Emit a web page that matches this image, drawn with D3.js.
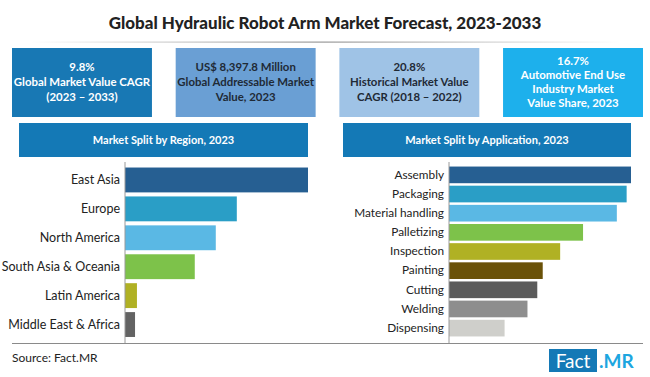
<!doctype html>
<html>
  <head>
    <meta charset="utf-8">
    <title>Global Hydraulic Robot Arm Market Forecast</title>
    <script src="https://cdnjs.cloudflare.com/ajax/libs/d3/7.8.5/d3.min.js"></script>
    <style>
      body { margin: 0; background: #fff; }
      svg { display: block; font-family: Lato, "Open Sans", sans-serif; }
    </style>
  </head>
  <body>
    <div id="chart"></div>
    <script>
    // data (shares, %)
    const regions = ['East Asia', 'Europe', 'North America', 'South Asia & Oceania', 'Latin America', 'Middle East & Africa'];
    const regionValues = [38.3, 23.4, 19.0, 14.6, 2.5, 2.1];
    const regionColors = ['#265f92', '#2a9ec6', '#5ab8e4', '#7dc24a', '#b0b124', '#636363'];

    const applications = ['Assembly', 'Packaging', 'Material handling', 'Palletizing', 'Inspection', 'Painting', 'Cutting', 'Welding', 'Dispensing'];
    const appValues = [16.7, 16.3, 15.4, 12.3, 10.2, 8.6, 8.1, 7.2, 5.1];
    const appColors = ['#265f92', '#2a9ec6', '#5ab8e4', '#7dc24a', '#b0b124', '#6a5209', '#5b5b5b', '#8e8e8e', '#cfcfcb'];

    const kpiLines = [
      ['9.8%', 'Global Market Value CAGR', '(2023 \u2013 2033)'],
      ['US$ 8,397.8 Million', 'Global Addressable Market', 'Value, 2023'],
      ['20.8%', 'Historical Market Value', 'CAGR (2018 \u2013 2022)'],
      ['16.7%', 'Automotive End Use', 'Industry Market', 'Value Share, 2023']
    ];
    const kpiColors = ['#1878b4', '#6a9fd4', '#9fc3e6', '#1db0ec'];
    const kpiText = ['#fff', '#1f2a36', '#1f2a36', '#fff'];

    const W = 650, H = 377;
    const svg = d3.select('#chart').append('svg').attr('width', W).attr('height', H);

    // title, sized so it spans about the same width as the original
    const title = svg.append('text').attr('x', 325).attr('y', 29)
      .attr('text-anchor', 'middle')
      .style('font-family', 'Lato, sans-serif')
      .style('font-weight', 900).style('font-size', '16px').style('fill', '#222')
      .text('Global Hydraulic Robot Arm Market Forecast, 2023-2033');
    const tw = title.node().getComputedTextLength();
    title.style('font-size', (16 * 433 / tw).toFixed(2) + 'px');

    const grad = svg.append('defs').append('linearGradient').attr('id', 'sep');
    grad.append('stop').attr('offset', '0%').attr('stop-color', '#fff');
    grad.append('stop').attr('offset', '50%').attr('stop-color', '#999');
    grad.append('stop').attr('offset', '100%').attr('stop-color', '#fff');
    svg.append('rect').attr('x', 30).attr('y', 41.5).attr('width', 590).attr('height', 1.2).attr('fill', 'url(#sep)');

    // KPI boxes
    const kx = d3.scaleBand().domain(d3.range(4)).range([12, 643]).paddingInner(0.145);
    const kpi = svg.selectAll('.kpi').data(kpiLines).join('g').attr('class', 'kpi')
      .attr('transform', (d, i) => `translate(${kx(i)},48)`);
    kpi.append('rect').attr('width', kx.bandwidth()).attr('height', 69)
      .attr('fill', (d, i) => kpiColors[i]);
    kpi.each(function(d, i) {
      const g = d3.select(this);
      const lh = d.length > 3 ? 14.3 : 15;
      const y0 = 34 - (d.length - 1) * lh / 2 + 4;
      d.forEach((t, j) => {
        g.append('text').attr('x', kx.bandwidth() / 2).attr('y', y0 + j * lh)
          .attr('text-anchor', 'middle')
          .style('font-size', '11.4px').style('font-weight', 700).style('fill', kpiText[i])
          .text(t);
      });
    });

    function panel(x0, x1, axisX, title, cats, vals, cols, bandTop, bandBottom, pad, fs) {
      svg.append('rect').attr('x', x0).attr('y', 123).attr('width', x1 - x0).attr('height', 34).attr('fill', '#1479b6');
      svg.append('text').attr('x', (x0 + x1) / 2).attr('y', 144).attr('text-anchor', 'middle')
        .style('font-size', '11px').style('font-weight', 700).style('fill', '#fff').text(title);

      const y = d3.scaleBand().domain(cats).range([bandTop, bandBottom]).paddingInner(pad).paddingOuter(pad / 2);
      const x = d3.scaleLinear().domain([0, d3.max(vals)]).range([axisX, x1]);

      svg.selectAll(null).data(cats).join('rect')
        .attr('x', axisX).attr('y', d => y(d))
        .attr('width', (d, i) => x(vals[i]) - axisX)
        .attr('height', y.bandwidth())
        .attr('fill', (d, i) => cols[i]);

      const ax = svg.append('g').attr('transform', `translate(${axisX},0)`)
        .call(d3.axisLeft(y).tickSize(0).tickPadding(5));
      ax.select('.domain').attr('stroke', '#9a9a9a').attr('d', `M0,162V343`);
      ax.selectAll('text').style('font-family', 'Lato, sans-serif').style('font-size', fs).style('fill', '#222');
    }

    panel(19, 308, 125, 'Market Split by Region, 2023', regions, regionValues, regionColors, 165.5, 339, 0.14, '12.5px');
    panel(343, 631, 449, 'Market Split by Application, 2023', applications, appValues, appColors, 165.3, 337.7, 0.13, '11.8px');

    // footer
    svg.append('line').attr('x1', 12).attr('x2', 643).attr('y1', 343.5).attr('y2', 343.5).attr('stroke', '#8a8a8a').attr('stroke-width', 1.2);
    svg.append('text').attr('x', 12).attr('y', 362).style('font-size', '12px').style('fill', '#222').text('Source: Fact.MR');
    svg.append('rect').attr('x', 549).attr('y', 349).attr('width', 48).attr('height', 23).attr('fill', '#1479b6');
    svg.append('text').attr('x', 573).attr('y', 368).attr('text-anchor', 'middle')
      .style('font-size', '19px').style('fill', '#fff').text('Fact');
    svg.append('text').attr('x', 599).attr('y', 368)
      .style('font-size', '19px').style('font-weight', 700).style('fill', '#1da6e0').text('.MR');
    </script>
  </body>
</html>
